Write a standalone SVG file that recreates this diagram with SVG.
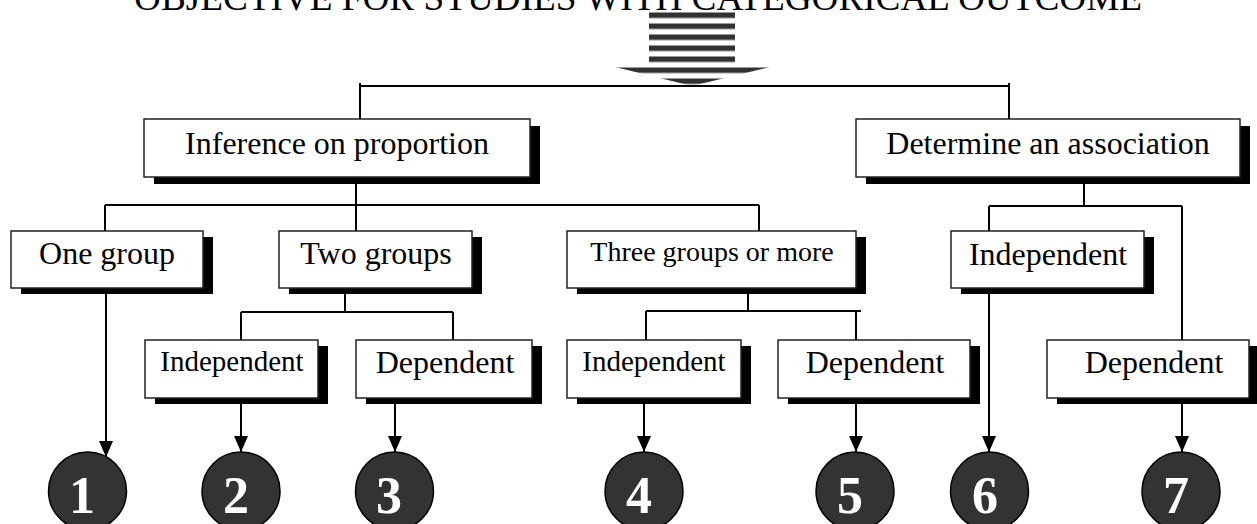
<svg xmlns="http://www.w3.org/2000/svg" width="1257" height="524" viewBox="0 0 1257 524">
  <style>
    .box { fill: #ffffff; stroke: #222222; stroke-width: 1.5; }
    .shadow { fill: #000000; }
    .lbl { font-family: "Liberation Serif", "Times New Roman", serif; fill: #000000; text-anchor: middle; }
    .l32 { font-size: 32px; }
    .l29 { font-size: 29px; }
    .l28 { font-size: 28px; }
    .wire { fill: none; stroke: #000000; stroke-width: 2; }
    .arrow { fill: none; stroke: #000000; stroke-width: 2; marker-end: url(#head); }
    .badge { fill: #333333; stroke: #000000; stroke-width: 1.5; }
    .num { font-family: "Liberation Serif", "Times New Roman", serif; font-weight: bold; font-size: 52px; fill: #ffffff; text-anchor: middle; }
    .title { font-family: "Liberation Serif", "Times New Roman", serif; font-size: 37px; fill: #000000; }
  </style>
  <defs>
    <marker id="head" viewBox="0 0 16 14" refX="16" refY="7" markerWidth="16" markerHeight="14" markerUnits="userSpaceOnUse" orient="auto">
      <path d="M0,0 L16,7 L0,14 Z" fill="#000000"/>
    </marker>
    <pattern id="stripes" patternUnits="userSpaceOnUse" x="0" y="12.5" width="20" height="11">
      <rect x="0" y="0" width="20" height="5.5" fill="#333333"/>
    </pattern>
    <filter id="soft" x="-5%" y="-5%" width="110%" height="110%">
      <feGaussianBlur stdDeviation="0.5"/>
    </filter>
  </defs>

  <!-- heading -->
  <text class="title" x="134" y="10" textLength="1008" lengthAdjust="spacingAndGlyphs">OBJECTIVE FOR STUDIES WITH CATEGORICAL OUTCOME</text>

  <!-- striped block arrow under the heading -->
  <g id="block-arrow">
    <path d="M649,10 L735,10 L735,65 L778,65 L692,86 L607,65 L649,65 Z" fill="url(#stripes)" filter="url(#soft)"/>
  </g>

  <!-- connectors -->
  <g id="connectors">
    <path class="wire" d="M360,86 H1009 M360,83 V119 M1009,83 V120"/>
    <path class="wire" d="M356,177 V231 M105,205 H759 M105,205 V231 M759,205 V231"/>
    <path class="wire" d="M345,288 V312 M241,312 H453 M241,312 V340 M453,312 V340"/>
    <path class="wire" d="M748,288 V312 M646,311 H861 M646,311 V340 M856,311 V340"/>
    <path class="wire" d="M1084,177 V206 M989,206 H1182 M989,206 V231 M1182,206 V340"/>
    <path class="arrow" d="M106,288 V457"/>
    <path class="arrow" d="M241,398 V452"/>
    <path class="arrow" d="M395,398 V452"/>
    <path class="arrow" d="M644,398 V452"/>
    <path class="arrow" d="M856,398 V452"/>
    <path class="arrow" d="M989,288 V452"/>
    <path class="arrow" d="M1182,398 V452"/>
  </g>

  <!-- level 1 -->
  <g id="inference">
    <rect class="shadow" x="154" y="126" width="386" height="58"/>
    <rect class="box" x="144" y="119" width="386" height="58"/>
    <text class="lbl l32" x="337" y="154">Inference on proportion</text>
  </g>
  <g id="association">
    <rect class="shadow" x="866" y="126" width="384" height="58"/>
    <rect class="box" x="856" y="119" width="384" height="58"/>
    <text class="lbl l32" x="1048" y="154">Determine an association</text>
  </g>

  <!-- level 2 -->
  <g id="one-group">
    <rect class="shadow" x="21" y="237" width="192" height="57"/>
    <rect class="box" x="11" y="231" width="192" height="57"/>
    <text class="lbl l32" x="107" y="264">One group</text>
  </g>
  <g id="two-groups">
    <rect class="shadow" x="289" y="237" width="193" height="57"/>
    <rect class="box" x="279" y="231" width="193" height="57"/>
    <text class="lbl l32" x="376" y="264">Two groups</text>
  </g>
  <g id="three-groups">
    <rect class="shadow" x="577" y="237" width="289" height="57"/>
    <rect class="box" x="567" y="231" width="289" height="57"/>
    <text class="lbl l28" x="712" y="261">Three groups or more</text>
  </g>
  <g id="assoc-independent">
    <rect class="shadow" x="961" y="237" width="193" height="57"/>
    <rect class="box" x="951" y="231" width="193" height="57"/>
    <text class="lbl l32" x="1048" y="265">Independent</text>
  </g>

  <!-- level 3 -->
  <g id="two-independent">
    <rect class="shadow" x="155" y="346" width="173" height="58"/>
    <rect class="box" x="145" y="340" width="173" height="58"/>
    <text class="lbl l29" x="232" y="371">Independent</text>
  </g>
  <g id="two-dependent">
    <rect class="shadow" x="366" y="346" width="176" height="58"/>
    <rect class="box" x="356" y="340" width="176" height="58"/>
    <text class="lbl l32" x="445" y="373">Dependent</text>
  </g>
  <g id="three-independent">
    <rect class="shadow" x="577" y="346" width="174" height="58"/>
    <rect class="box" x="567" y="340" width="174" height="58"/>
    <text class="lbl l29" x="654" y="371">Independent</text>
  </g>
  <g id="three-dependent">
    <rect class="shadow" x="788" y="346" width="192" height="58"/>
    <rect class="box" x="778" y="340" width="192" height="58"/>
    <text class="lbl l32" x="875" y="373">Dependent</text>
  </g>
  <g id="assoc-dependent">
    <rect class="shadow" x="1057" y="346" width="202" height="58"/>
    <rect class="box" x="1047" y="340" width="202" height="58"/>
    <text class="lbl l32" x="1154" y="373">Dependent</text>
  </g>

  <!-- numbered outcomes -->
  <g id="badge-1"><circle class="badge" cx="87.5" cy="491" r="39"/><text class="num" x="82" y="513">1</text></g>
  <g id="badge-2"><circle class="badge" cx="241" cy="491" r="39"/><text class="num" x="236" y="513">2</text></g>
  <g id="badge-3"><circle class="badge" cx="394.5" cy="491" r="39"/><text class="num" x="389" y="513">3</text></g>
  <g id="badge-4"><circle class="badge" cx="644" cy="491" r="39"/><text class="num" x="639" y="513">4</text></g>
  <g id="badge-5"><circle class="badge" cx="855" cy="491" r="39"/><text class="num" x="850" y="513">5</text></g>
  <g id="badge-6"><circle class="badge" cx="989.5" cy="491" r="39"/><text class="num" x="985" y="513">6</text></g>
  <g id="badge-7"><circle class="badge" cx="1181" cy="491" r="39"/><text class="num" x="1176" y="513">7</text></g>
</svg>
